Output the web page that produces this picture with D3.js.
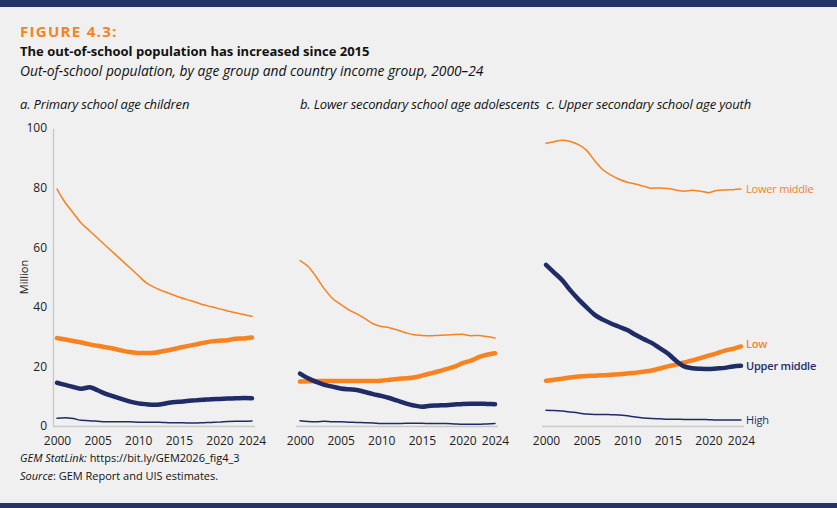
<!DOCTYPE html>
<html>
<head>
<meta charset="utf-8">
<script src="https://cdn.jsdelivr.net/npm/d3@7"></script>
<style>
  body { margin: 0; background: #f0f0f0; }
  svg { display: block; font-family: "Open Sans", sans-serif; }
</style>
</head>
<body>
<svg id="chart"></svg>
<script>
const width = 837,
  height = 508;

const years = d3.range(2000, 2025);
const yTicks = [0, 20, 40, 60, 80, 100];
const xTicks = [2000, 2005, 2010, 2015, 2020, 2024];

const panelTitles = [
  "a. Primary school age children",
  "b. Lower secondary school age adolescents",
  "c. Upper secondary school age youth",
];

const groups = ["Lower middle", "Low", "Upper middle", "High"];

// primary school age children
const primaryLowerMiddle = [79.5, 75, 71.5, 68, 65.5, 63, 60.5, 58, 55.5, 53, 50.5, 48, 46.5, 45.3, 44.3, 43.3, 42.4, 41.6, 40.7, 40, 39.3, 38.6, 38, 37.4, 36.8];
const primaryLow = [29.5, 29, 28.5, 28, 27.4, 26.9, 26.4, 25.9, 25.3, 24.8, 24.5, 24.5, 24.6, 25.1, 25.6, 26.2, 26.8, 27.3, 27.9, 28.4, 28.6, 28.8, 29.3, 29.4, 29.7];
const primaryUpperMiddle = [14.5, 13.8, 13.1, 12.5, 13, 12, 10.8, 9.9, 9, 8.2, 7.6, 7.3, 7.1, 7.4, 7.9, 8.1, 8.4, 8.6, 8.8, 9, 9.1, 9.2, 9.3, 9.4, 9.3];
const primaryHigh = [2.6, 2.8, 2.5, 1.9, 1.8, 1.6, 1.4, 1.4, 1.4, 1.4, 1.3, 1.3, 1.3, 1.2, 1.1, 1.1, 1.0, 1.0, 1.1, 1.2, 1.3, 1.5, 1.6, 1.6, 1.7];

// lower secondary school age adolescents
const lowerSecLowerMiddle = [55.5, 53.5, 50, 46, 42.8, 40.8, 39, 37.6, 36, 34.3, 33.4, 33, 32.2, 31.3, 30.6, 30.4, 30.3, 30.4, 30.5, 30.7, 30.8, 30.3, 30.4, 30.0, 29.5];
const lowerSecLow = [14.9, 15, 15.1, 15.1, 15.1, 15.1, 15.1, 15.1, 15.1, 15.1, 15.2, 15.5, 15.8, 16, 16.3, 16.9, 17.6, 18.3, 19.1, 19.9, 21.1, 21.9, 23.1, 23.9, 24.4];
const lowerSecUpperMiddle = [17.6, 16, 14.8, 13.8, 13.2, 12.6, 12.3, 12.1, 11.4, 10.7, 10.1, 9.4, 8.5, 7.6, 6.9, 6.5, 6.8, 6.9, 7.0, 7.2, 7.4, 7.5, 7.5, 7.4, 7.3];
const lowerSecHigh = [1.8, 1.5, 1.4, 1.6, 1.4, 1.4, 1.3, 1.2, 1.1, 1.0, 0.8, 0.8, 0.8, 0.9, 0.9, 0.9, 0.8, 0.8, 0.8, 0.7, 0.6, 0.6, 0.6, 0.7, 0.8];

// upper secondary school age youth
const upperSecLowerMiddle = [94.9, 95.4, 95.9, 95.5, 94.4, 92.5, 89, 86, 84.2, 82.8, 81.8, 81.2, 80.5, 79.8, 79.9, 79.7, 79.2, 78.8, 79.1, 78.8, 78.3, 79, 79.2, 79.3, 79.5];
const upperSecLow = [15.2, 15.5, 15.9, 16.3, 16.6, 16.8, 16.9, 17.0, 17.2, 17.4, 17.6, 17.9, 18.2, 18.6, 19.3, 20.0, 20.6, 21.3, 22.0, 22.8, 23.6, 24.4, 25.3, 25.9, 26.7];
const upperSecUpperMiddle = [54.1, 51.5, 48.9, 45.5, 42.5, 39.8, 37.3, 35.7, 34.4, 33.3, 32.2, 30.6, 29.2, 27.9, 26.1, 24.3, 21.9, 20, 19.4, 19.2, 19.1, 19.3, 19.5, 20, 20.2];
const upperSecHigh = [5.3, 5.2, 5.0, 4.7, 4.4, 4.0, 3.9, 3.9, 3.8, 3.7, 3.4, 3.0, 2.7, 2.5, 2.4, 2.3, 2.3, 2.2, 2.2, 2.2, 2.1, 2.0, 2.0, 2.0, 2.0];

const panels = [
  [primaryLowerMiddle, primaryLow, primaryUpperMiddle, primaryHigh],
  [lowerSecLowerMiddle, lowerSecLow, lowerSecUpperMiddle, lowerSecHigh],
  [upperSecLowerMiddle, upperSecLow, upperSecUpperMiddle, upperSecHigh],
];

const orange = "#f7821f",
  navy = "#1f2c66";
const styles = {
  "Lower middle": { color: orange, width: 1.5, weight: 400 },
  Low: { color: orange, width: 4.5, weight: 600 },
  "Upper middle": { color: navy, width: 4.5, weight: 600 },
  High: { color: navy, width: 1.5, weight: 400 },
};

const svg = d3
  .select("#chart")
  .attr("width", width)
  .attr("height", height);

svg.append("rect").attr("width", width).attr("height", height).attr("fill", "#f0f0f0");
svg.append("rect").attr("width", width).attr("height", 7).attr("fill", "#253468");
svg.append("rect").attr("y", 503).attr("width", width).attr("height", 5).attr("fill", "#253468");

// header
svg
  .append("text")
  .attr("x", 20)
  .attr("y", 37)
  .attr("fill", orange)
  .attr("font-size", 15)
  .attr("font-weight", 700)
  .attr("letter-spacing", 1.3)
  .text("FIGURE 4.3:");

svg
  .append("text")
  .attr("x", 20)
  .attr("y", 56)
  .attr("fill", "#111")
  .attr("font-size", 13)
  .attr("font-weight", 700)
  .text("The out-of-school population has increased since 2015");

svg
  .append("text")
  .attr("x", 20)
  .attr("y", 76)
  .attr("fill", "#111")
  .attr("font-size", 13.8)
  .attr("font-style", "italic")
  .text("Out-of-school population, by age group and country income group, 2000\u201324");

const y = d3.scaleLinear().domain([0, 100]).range([426, 128]);
const panelX = [57, 300, 546];
const plotW = 195;

panels.forEach((series, i) => {
  const x = d3
    .scaleLinear()
    .domain([2000, 2024])
    .range([panelX[i], panelX[i] + plotW]);

  svg
    .append("text")
    .attr("x", i === 0 ? 20 : panelX[i])
    .attr("y", 109)
    .attr("fill", "#111")
    .attr("font-size", 13)
    .attr("letter-spacing", -0.15)
    .attr("font-style", "italic")
    .text(panelTitles[i]);

  const g = svg.append("g");

  // baseline
  g.append("line")
    .attr("x1", x.range()[0] - 4)
    .attr("x2", x.range()[1] + 3)
    .attr("y1", y(0) + 0.5)
    .attr("y2", y(0) + 0.5)
    .attr("stroke", "#c8c8c8")
    .attr("stroke-width", 1.3);

  const xAxis = g
    .append("g")
    .attr("transform", `translate(0,${y(0)})`)
    .call(d3.axisBottom(x).tickValues(xTicks).tickFormat(d3.format("d")).tickSize(0).tickPadding(10));
  xAxis.select(".domain").remove();
  xAxis.selectAll("text").attr("font-size", 12).attr("fill", "#222").attr("font-family", "Open Sans, sans-serif");

  if (i === 0) {
    const yAxis = g
      .append("g")
      .attr("transform", `translate(${panelX[0] - 4},0)`)
      .call(d3.axisLeft(y).tickValues(yTicks).tickSize(0).tickPadding(6));
    yAxis.select(".domain").attr("stroke", "#c8c8c8").attr("stroke-width", 1.3);
    yAxis.selectAll("text").attr("font-size", 12).attr("fill", "#222").attr("font-family", "Open Sans, sans-serif");

    g.append("text")
      .attr("transform", `translate(28,${y(50)}) rotate(-90)`)
      .attr("text-anchor", "middle")
      .attr("font-size", 11)
      .attr("fill", "#222")
      .text("Million");
  }

  const line = d3
    .line()
    .x((d, j) => x(years[j]))
    .y((d) => y(d))
    .curve(d3.curveMonotoneX);

  // draw thin lines first, then thick
  const order = ["Lower middle", "High", "Low", "Upper middle"];
  order.forEach((name) => {
    const k = groups.indexOf(name);
    g.append("path")
      .datum(series[k])
      .attr("fill", "none")
      .attr("stroke", styles[name].color)
      .attr("stroke-width", styles[name].width)
      .attr("stroke-linecap", "round")
      .attr("stroke-linejoin", "round")
      .attr("d", line);
  });

  if (i === 2) {
    const labelDy = { "Lower middle": 0, Low: -2, "Upper middle": 0, High: 0 };
    groups.forEach((name, k) => {
      const last = series[k][series[k].length - 1];
      g.append("text")
        .attr("x", x(2024) + 5)
        .attr("y", y(last) + labelDy[name])
        .attr("dy", "0.35em")
        .attr("font-size", 11)
        .attr("letter-spacing", -0.2)
        .attr("font-weight", styles[name].weight)
        .attr("fill", styles[name].color)
        .text(name);
    });
  }
});

// footer
const f1 = svg
  .append("text")
  .attr("x", 20)
  .attr("y", 462)
  .attr("font-size", 11)
  .attr("fill", "#111");
f1.append("tspan").attr("font-style", "italic").text("GEM StatLink: ");
f1.append("tspan").text("https://bit.ly/GEM2026_fig4_3");

const f2 = svg
  .append("text")
  .attr("x", 20)
  .attr("y", 480)
  .attr("font-size", 11)
  .attr("fill", "#111");
f2.append("tspan").attr("font-style", "italic").text("Source");
f2.append("tspan").text(": GEM Report and UIS estimates.");
</script>
</body>
</html>
